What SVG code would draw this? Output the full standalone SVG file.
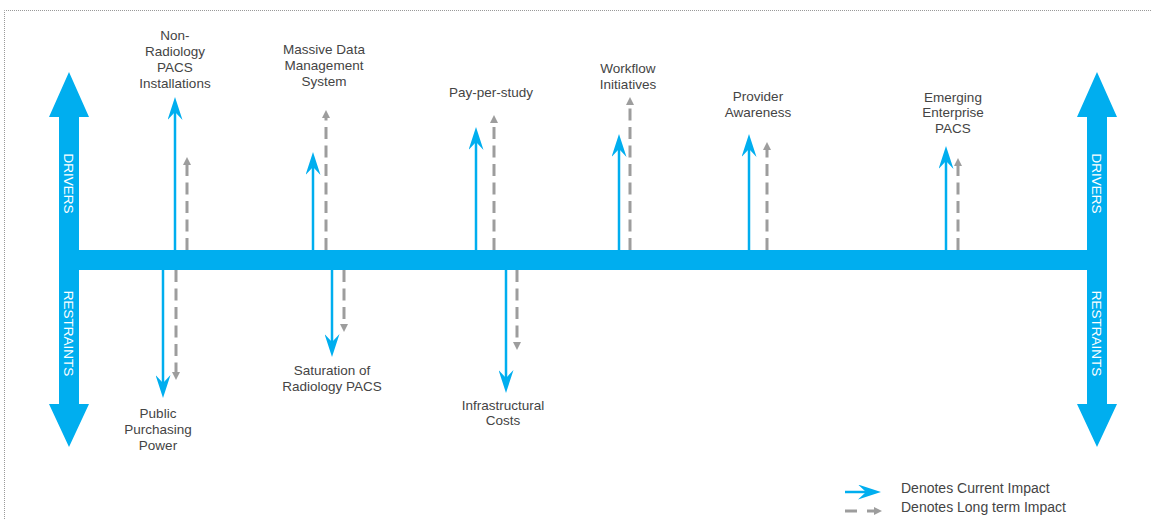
<svg xmlns="http://www.w3.org/2000/svg" width="1152" height="519" viewBox="0 0 1152 519">
<style>
  .lbl { font-family: "Liberation Sans", Arial, sans-serif; font-size: 13.5px; fill: #444; text-anchor: middle; }
  .leg { font-family: "Liberation Sans", Arial, sans-serif; font-size: 14px; fill: #444; }
  .axis { font-family: "Liberation Sans", Arial, sans-serif; font-size: 13.5px; fill: #fff; text-anchor: middle; }
  .cur { stroke: #00AEEF; stroke-width: 2.5; fill: none; marker-end: url(#headBlue); }
  .lt { stroke: #9d9d9d; stroke-width: 3; fill: none; stroke-dasharray: 12 6.5; marker-end: url(#headGray); }
  .big { fill: #00AEEF; }
  .border { stroke: #999; stroke-width: 1; stroke-dasharray: 1 1; fill: none; }
</style>
<defs>
  <marker id="headBlue" markerUnits="userSpaceOnUse" markerWidth="23" markerHeight="15" viewBox="0 0 23 15" refX="8" refY="7.5" orient="auto">
    <path d="M0,0 L23,7.5 L0,15 L8,7.5 Z" fill="#00AEEF"/>
  </marker>
  <marker id="headGray" markerUnits="userSpaceOnUse" markerWidth="8" markerHeight="8" viewBox="0 0 8 8" refX="0" refY="4" orient="auto">
    <path d="M0,0 L8,4 L0,8 Z" fill="#9d9d9d"/>
  </marker>
</defs>
<rect width="1152" height="519" fill="#fff"/>
<path class="border" d="M4.5,519 V10.5 H1152"/>

<g id="axis">
  <path class="big" d="M69,72 L89,117 L79,117 L79,404 L89,404 L69,447 L49,404 L59,404 L59,117 L49,117 Z"/>
  <path class="big" d="M1097,72 L1117,117 L1107,117 L1107,404 L1117,404 L1097,447 L1077,404 L1087,404 L1087,117 L1077,117 Z"/>
  <rect class="big" x="59" y="250" width="1048" height="20"/>
  <text class="axis" transform="translate(69,183.5) rotate(90)" y="5">DRIVERS</text>
  <text class="axis" transform="translate(69,333.5) rotate(90)" y="5">RESTRAINTS</text>
  <text class="axis" transform="translate(1097,183.5) rotate(90)" y="5">DRIVERS</text>
  <text class="axis" transform="translate(1097,333.5) rotate(90)" y="5">RESTRAINTS</text>
</g>

<g id="connectors">
  <path class="cur" d="M175,250 V112"/>
  <path class="lt" d="M187,250 V165"/>
  <path class="cur" d="M163,270 V383"/>
  <path class="lt" d="M176,270 V372"/>
  <path class="cur" d="M313,250 V167"/>
  <path class="lt" d="M326,250 V118"/>
  <path class="cur" d="M332,270 V342"/>
  <path class="lt" d="M344,270 V324"/>
  <path class="cur" d="M476,250 V142"/>
  <path class="lt" d="M494,250 V123"/>
  <path class="cur" d="M506,270 V378"/>
  <path class="lt" d="M517,270 V342"/>
  <path class="cur" d="M619,250 V149"/>
  <path class="lt" d="M630,250 V105"/>
  <path class="cur" d="M749,250 V149"/>
  <path class="lt" d="M767,250 V150"/>
  <path class="cur" d="M946,250 V161"/>
  <path class="lt" d="M958,250 V166"/>
</g>

<g id="non-radiology-pacs">
  <text class="lbl" x="175" y="40">Non-</text>
  <text class="lbl" x="175" y="56">Radiology</text>
  <text class="lbl" x="175" y="72">PACS</text>
  <text class="lbl" x="175" y="88">Installations</text>
</g>
<g id="public-purchasing-power">
  <text class="lbl" x="158" y="418">Public</text>
  <text class="lbl" x="158" y="434">Purchasing</text>
  <text class="lbl" x="158" y="450">Power</text>
</g>
<g id="massive-data">
  <text class="lbl" x="324" y="54">Massive Data</text>
  <text class="lbl" x="324" y="70">Management</text>
  <text class="lbl" x="324" y="86">System</text>
</g>
<g id="saturation">
  <text class="lbl" x="332" y="375">Saturation of</text>
  <text class="lbl" x="332" y="391">Radiology PACS</text>
</g>
<g id="pay-per-study">
  <text class="lbl" x="491" y="97">Pay-per-study</text>
</g>
<g id="infrastructural-costs">
  <text class="lbl" x="503" y="410">Infrastructural</text>
  <text class="lbl" x="503" y="425">Costs</text>
</g>
<g id="workflow-initiatives">
  <text class="lbl" x="628" y="73">Workflow</text>
  <text class="lbl" x="628" y="89">Initiatives</text>
</g>
<g id="provider-awareness">
  <text class="lbl" x="758" y="101">Provider</text>
  <text class="lbl" x="758" y="117">Awareness</text>
</g>
<g id="emerging-enterprise-pacs">
  <text class="lbl" x="953" y="102">Emerging</text>
  <text class="lbl" x="953" y="117">Enterprise</text>
  <text class="lbl" x="953" y="133">PACS</text>
</g>

<g id="legend">
  <path class="cur" d="M845,492 H866"/>
  <path class="lt" d="M845,511 H874" style="stroke-dasharray: 12 10"/>
  <text class="leg" x="901" y="493">Denotes Current Impact</text>
  <text class="leg" x="901" y="512">Denotes Long term Impact</text>
</g>
</svg>
